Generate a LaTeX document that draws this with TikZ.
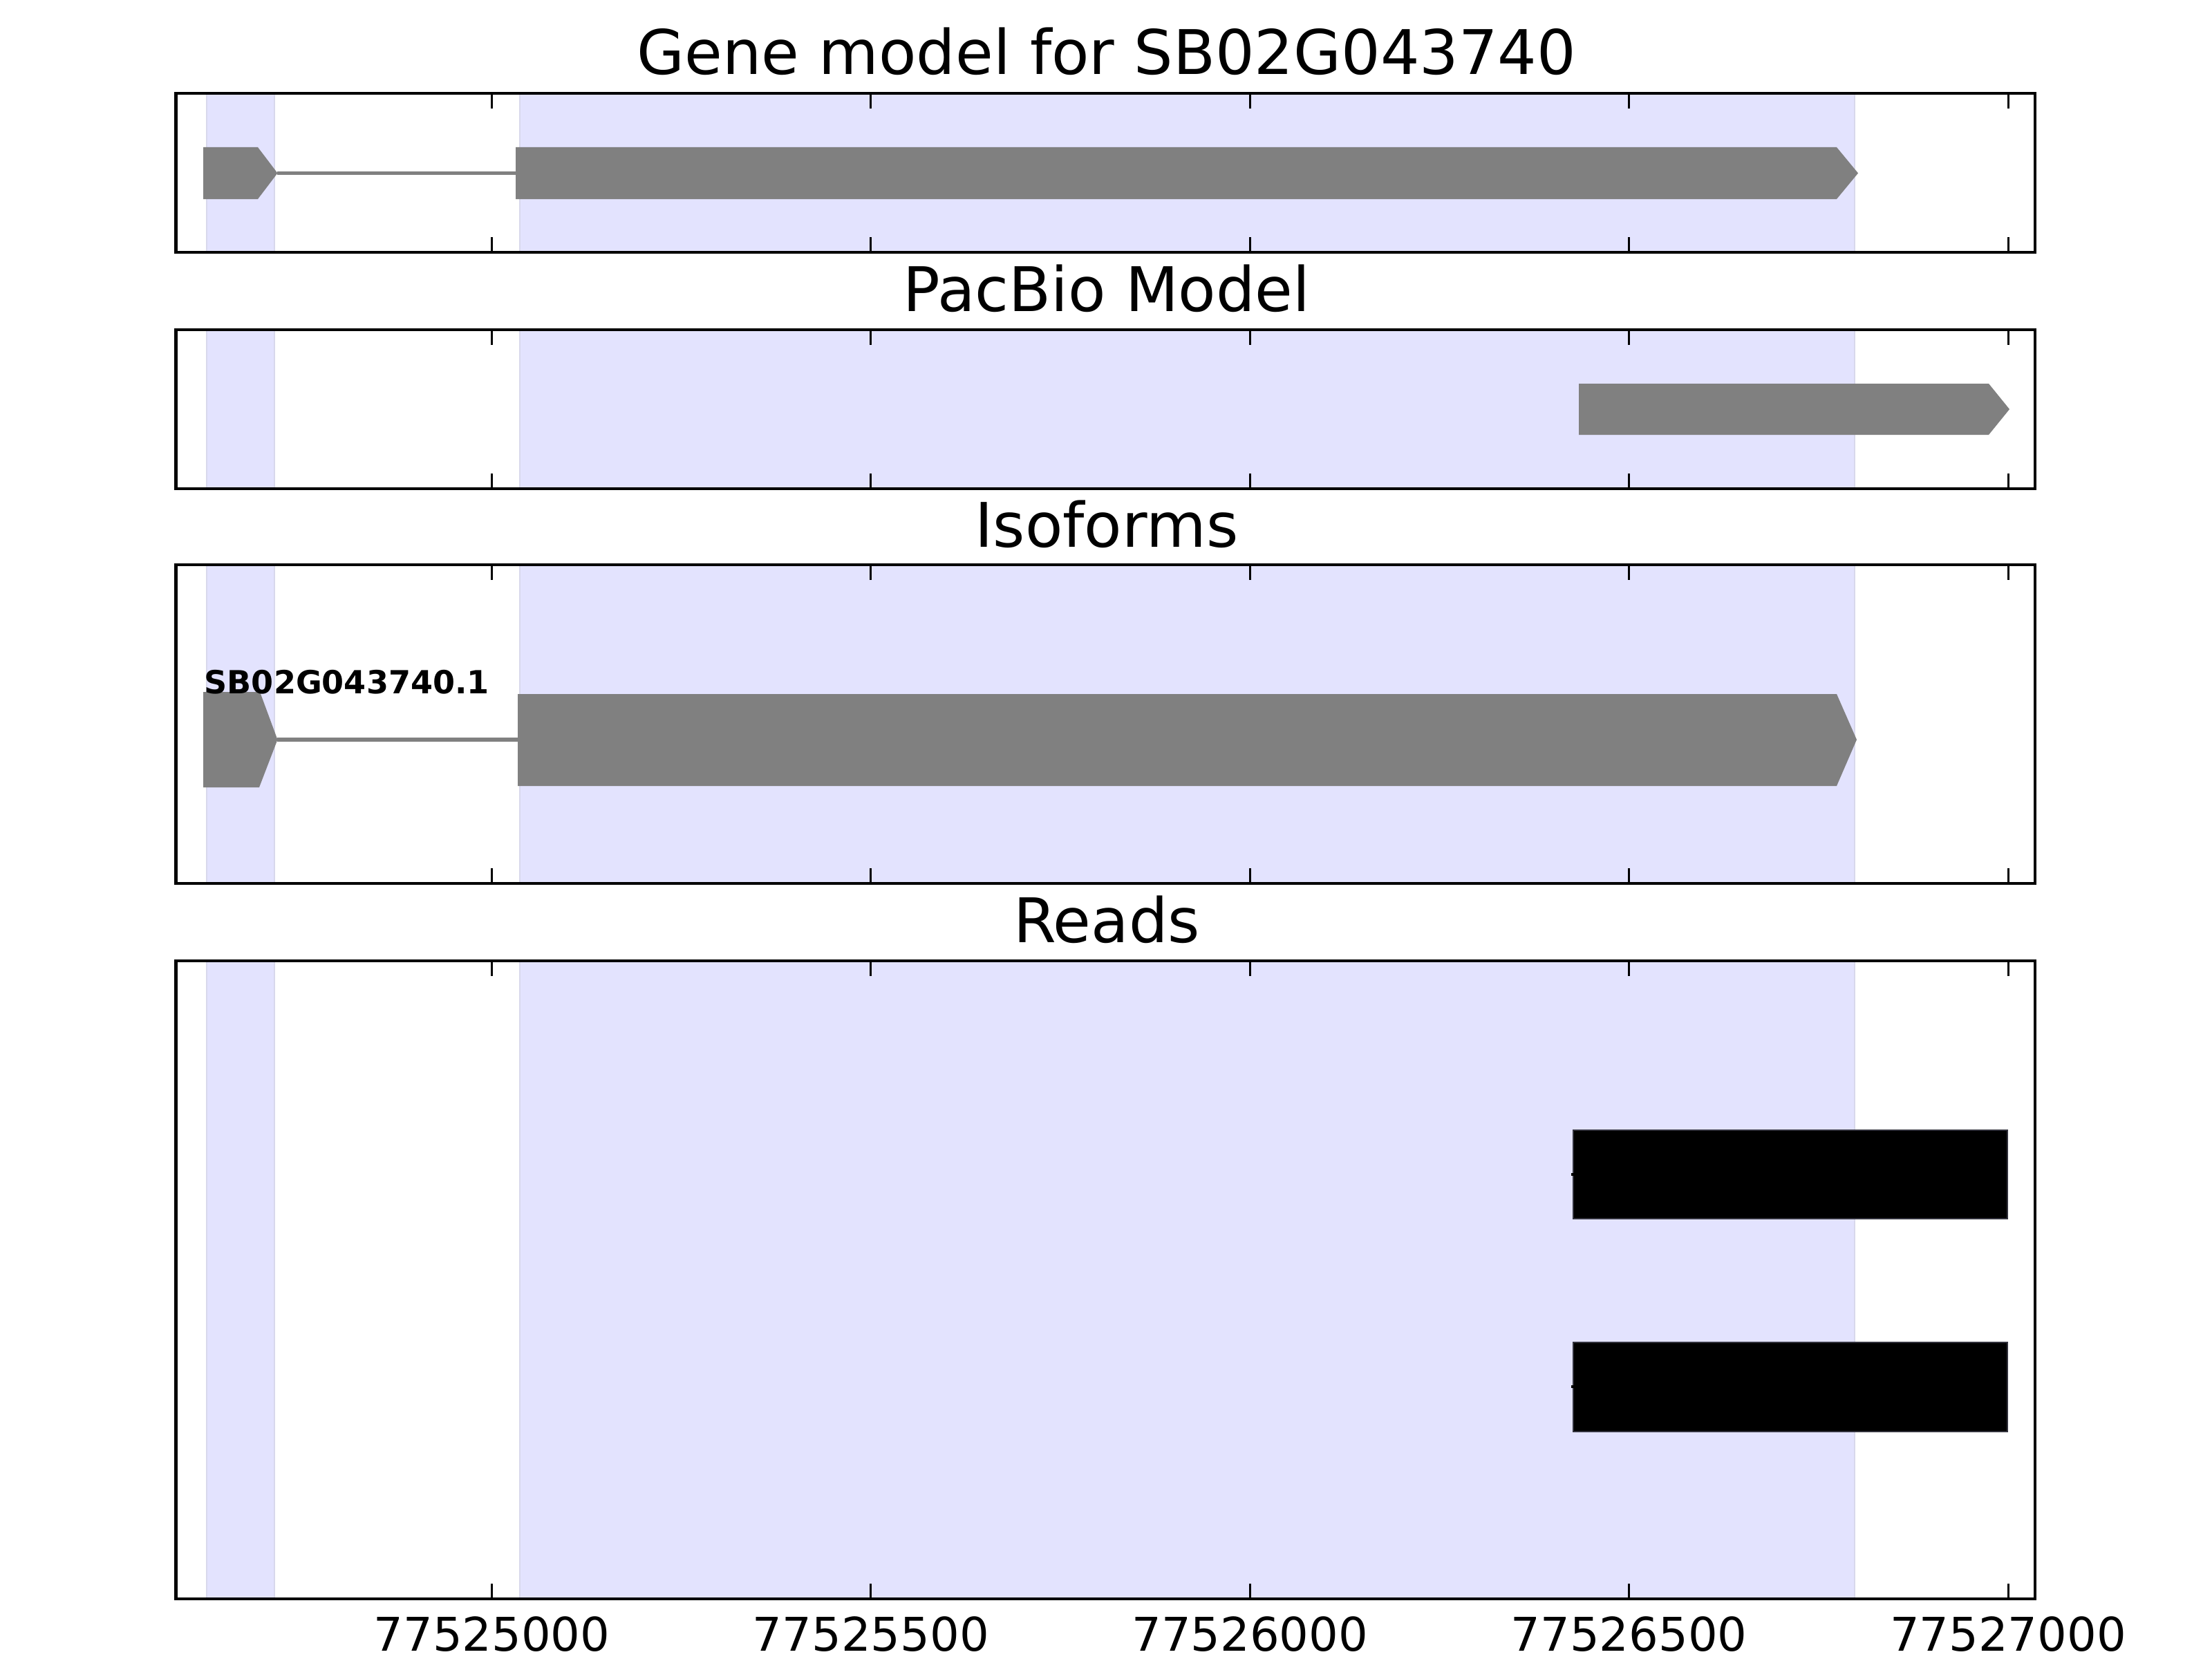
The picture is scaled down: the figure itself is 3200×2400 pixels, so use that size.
\documentclass[tikz,border=0pt]{standalone}
\usepackage{fontspec}
\setmainfont{DejaVu Sans}
\definecolor{bandfill}{RGB}{227,227,254}
\definecolor{bandedge}{RGB}{216,216,236}
\definecolor{exongray}{RGB}{128,128,128}
\definecolor{readedge}{RGB}{50,50,60}
\tikzset{
  band/.style={fill=bandfill, draw=bandedge, line width=0.6pt},
  frame/.style={draw=black, line width=1.3pt},
  tickmark/.style={draw=black, line width=0.85pt},
  exon/.style={fill=exongray, draw=none},
  intron/.style={draw=exongray, line width=1.6pt},
  readbox/.style={fill=black, draw=readedge, line width=0.4pt},
  paneltitle/.style={anchor=base, inner sep=0pt, font=\fontsize{25.3}{30}\selectfont},
  ticklabel/.style={anchor=base, inner sep=0pt, font=\fontsize{19.1}{23}\selectfont},
  isolabel/.style={anchor=base west, inner sep=0pt, font=\bfseries\fontsize{13.1}{16}\selectfont}
}
\begin{document}
\begin{tikzpicture}[x=0.01cm, y=-0.01cm]
\useasboundingbox[fill=white] (0,0) rectangle (3200,2400);

% shaded bands in each panel
\foreach \ya/\yb in {135/365, 477/707, 817/1278, 1390/2313} {
  \draw[band] (299,\ya) rectangle (397,\yb);
  \draw[band] (752,\ya) rectangle (2683,\yb);
}

% Panel 1: gene model
\fill[exon] (294,213) -- (373,213) -- (401.5,250.5) -- (373,288) -- (294,288) -- cycle;
\coordinate (g1end) at (401,250.5);
\coordinate (g2start) at (747,250.5);
\draw[intron] (g1end) -- (g2start);
\fill[exon] (746,213) -- (2657,213) -- (2688,250.5) -- (2657,288) -- (746,288) -- cycle;

% Panel 2: PacBio model
\fill[exon] (2284,555) -- (2877,555) -- (2907,592) -- (2877,629) -- (2284,629) -- cycle;

% Panel 3: isoforms
\fill[exon] (294,1001) -- (376,1001) -- (401.5,1070) -- (375,1139) -- (294,1139) -- cycle;
\coordinate (i1end) at (401,1070);
\coordinate (i2start) at (750,1070);
\draw[intron] (i1end) -- (i2start);
\fill[exon] (749,1004) -- (2657,1004) -- (2686,1070) -- (2657,1137) -- (749,1137) -- cycle;
\node[isolabel] (isoname) at (295,1003) {SB02G043740.1};

% Panel 4: reads
\draw[readbox] (2276,1635) rectangle (2904,1763);
\draw[readbox] (2276,1942) rectangle (2904,2071);
\draw[black, line width=0.9pt] (2273,1699) -- (2277,1699);
\draw[black, line width=0.9pt] (2273,2006) -- (2277,2006);

% frames and ticks
\foreach \ya/\yb in {135/365, 477/707, 817/1278, 1390/2313} {
  \draw[frame] (254.5,\ya) rectangle (2944,\yb);
  \foreach \t in {711.5,1259.9,1808.3,2356.6,2905} {
    \draw[tickmark] (\t,\ya) -- ++(0,22);
    \draw[tickmark] (\t,\yb) -- ++(0,-22);
  }
}

% titles
\node[paneltitle] (t1) at (1601,108) {Gene model for SB02G043740};
\node[paneltitle] (t2) at (1601,450) {PacBio Model};
\node[paneltitle] (t3) at (1601,791) {Isoforms};
\node[paneltitle] (t4) at (1601,1363) {Reads};

% tick labels
\node[ticklabel] (l1) at (711.5,2388) {77525000};
\node[ticklabel] (l2) at (1259.9,2388) {77525500};
\node[ticklabel] (l3) at (1808.3,2388) {77526000};
\node[ticklabel] (l4) at (2356.6,2388) {77526500};
\node[ticklabel] (l5) at (2905,2388) {77527000};
\end{tikzpicture}
\end{document}
